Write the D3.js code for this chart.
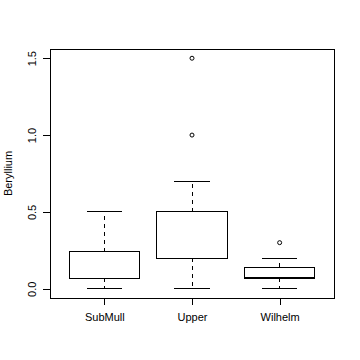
<!DOCTYPE html>
<html>
<head>
<meta charset="utf-8">
<script src="https://cdn.jsdelivr.net/npm/d3@7"></script>
<style>
  body { margin: 0; background: #fff; }
  text { font-family: "Liberation Sans", Arial, sans-serif; font-size: 11px; fill: #000; }
  line, rect { shape-rendering: crispEdges; }
</style>
</head>
<body>
<svg id="chart" width="360" height="360"></svg>
<script>
// boxplot stats
var groups   = ["SubMull", "Upper", "Wilhelm"];
var lowWhisk = [0, 0, 0];
var q1       = [0.07, 0.2, 0.07];
var medians  = [0.07, 0.2, 0.07];
var q3       = [0.24, 0.5, 0.14];
var upWhisk  = [0.5, 0.7, 0.2];
var outliers = [[], [1.0, 1.5], [0.3]];
var yTicks   = [0, 0.5, 1.0, 1.5];

var svg = d3.select("#chart");
// note: "top" is taken by window.top, so use plot* names
var plotL = 50, plotR = 334, plotT = 49, plotB = 298;

var x = d3.scaleLinear().domain([0.38, 3.62]).range([plotL, plotR]);
var y = d3.scaleLinear().domain([-0.06, 1.56]).range([plotB, plotT]);

var halfBox = 0.4, halfCap = 0.2;
var boxW = x(1 + halfBox) - x(1 - halfBox);

var g = svg.append("g").attr("stroke", "#000").attr("fill", "none");

groups.forEach(function(name, i) {
  var cx = x(i + 1);
  // whiskers
  g.append("line").attr("x1", cx).attr("x2", cx)
    .attr("y1", y(q3[i])).attr("y2", y(upWhisk[i]))
    .attr("stroke-dasharray", "4,4");
  g.append("line").attr("x1", cx).attr("x2", cx)
    .attr("y1", y(q1[i])).attr("y2", y(lowWhisk[i]))
    .attr("stroke-dasharray", "4,4");
  // caps
  [upWhisk[i], lowWhisk[i]].forEach(function(v) {
    g.append("line")
      .attr("x1", x(i + 1 - halfCap)).attr("x2", x(i + 1 + halfCap))
      .attr("y1", y(v)).attr("y2", y(v));
  });
  // box
  g.append("rect")
    .attr("x", x(i + 1 - halfBox)).attr("width", boxW)
    .attr("y", y(q3[i])).attr("height", y(q1[i]) - y(q3[i]))
    .attr("fill", "#fff");
  g.append("line")
    .attr("x1", x(i + 1 - halfBox)).attr("x2", x(i + 1 + halfBox))
    .attr("y1", y(medians[i])).attr("y2", y(medians[i]))
    .attr("stroke-width", i == 2 ? 2.5 : 1);
  // outliers
  outliers[i].forEach(function(v) {
    g.append("circle").attr("cx", cx).attr("cy", y(v)).attr("r", 2);
  });
});

// frame
svg.append("rect")
  .attr("x", plotL).attr("y", plotT)
  .attr("width", plotR - plotL).attr("height", plotB - plotT)
  .attr("fill", "none").attr("stroke", "#000");

// y axis (R style, spans the ticks only)
var yAxis = d3.axisLeft(y).tickValues(yTicks).tickSize(7).tickPadding(4)
  .tickFormat(d3.format(".1f"));
var ya = svg.append("g").attr("transform", "translate(" + plotL + ",0)").call(yAxis);
ya.select(".domain").remove();
ya.append("line").attr("x1", 0).attr("x2", 0)
  .attr("y1", y(yTicks[0])).attr("y2", y(yTicks[yTicks.length - 1]))
  .attr("stroke", "#000");
ya.selectAll(".tick text")
  .attr("transform", "rotate(-90)")
  .attr("x", 0).attr("y", -14).attr("dy", 0)
  .attr("text-anchor", "middle")
  .style("font-size", "11px").style("font-family", "Liberation Sans, Arial, sans-serif");

// x axis
var xAxis = d3.axisBottom(x).tickValues([1, 2, 3]).tickSize(7).tickPadding(8)
  .tickFormat(function(d) { return groups[d - 1]; });
var xa = svg.append("g").attr("transform", "translate(0," + plotB + ")").call(xAxis);
xa.select(".domain").remove();
xa.append("line").attr("x1", x(1)).attr("x2", x(3)).attr("stroke", "#000");
xa.selectAll(".tick text")
  .style("font-size", "11px").style("font-family", "Liberation Sans, Arial, sans-serif");

// y label
svg.append("text")
  .attr("transform", "translate(12," + (plotT + plotB) / 2 + ") rotate(-90)")
  .attr("text-anchor", "middle")
  .text("Beryllium");
</script>
</body>
</html>
